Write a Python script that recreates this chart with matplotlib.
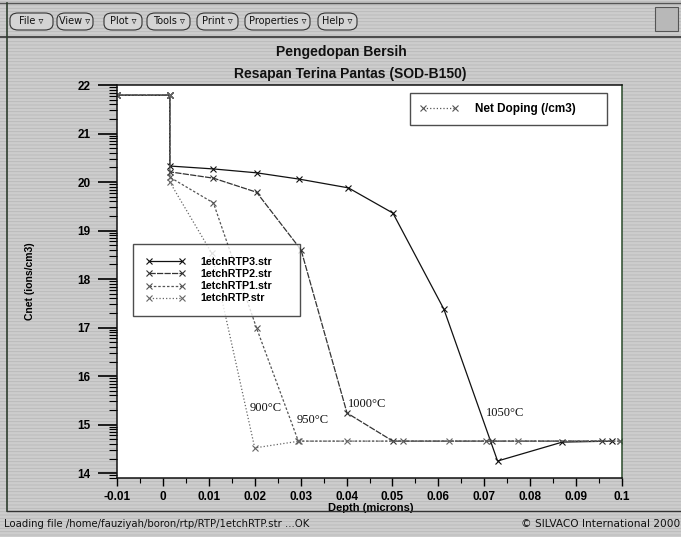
import matplotlib
matplotlib.use("Agg")
import numpy as np
import matplotlib.pyplot as plt
import matplotlib.ticker as ticker
from matplotlib.lines import Line2D
from matplotlib.patches import FancyBboxPatch, Rectangle

plt.rcParams['font.family'] = ['Liberation Sans', 'DejaVu Sans']
plt.rcParams['hatch.linewidth'] = 0.6

# depth (microns) and log10 net doping for the four RTP runs
depth_1050 = [-0.01, 0.0015, 0.0015, 0.011, 0.0204, 0.0297, 0.0404, 0.0501, 0.0612, 0.0729, 0.087, 0.0978]
cnet_1050 = [21.79, 21.79, 20.33, 20.27, 20.19, 20.06, 19.88, 19.36, 17.38, 14.25, 14.64, 14.66]
depth_1000 = [-0.01, 0.0015, 0.0015, 0.011, 0.0204, 0.0301, 0.0401, 0.0501, 0.0716, 0.0957]
cnet_1000 = [21.79, 21.79, 20.21, 20.08, 19.79, 18.6, 15.24, 14.66, 14.66, 14.66]
depth_950 = [-0.01, 0.0015, 0.0015, 0.011, 0.0204, 0.0295, 0.0523, 0.0703, 0.0995]
cnet_950 = [21.79, 21.79, 20.10, 19.57, 16.99, 14.66, 14.66, 14.66, 14.66]
depth_900 = [-0.01, 0.0015, 0.0015, 0.0106, 0.020, 0.0297, 0.0400, 0.0623, 0.0774, 0.0995]
cnet_900 = [21.79, 21.79, 20.0, 18.54, 14.52, 14.66, 14.66, 14.66, 14.66, 14.66]

files = ["1etchRTP3.str", "1etchRTP2.str", "1etchRTP1.str", "1etchRTP.str"]
temps = ["1050°C", "1000°C", "950°C", "900°C"]
temp_pos = [(0.0703, 15.24), (0.0403, 15.42), (0.0291, 15.09), (0.0189, 15.34)]

menu = ["File", "View", "Plot", "Tools", "Print", "Properties", "Help"]
menu_x = [(10, 53), (57, 93), (104, 142), (147, 190), (197, 238), (245, 310), (318, 357)]

W, H = 681, 537


def fx(x):
    return x / W


def fy(y):
    return 1 - y / H


fig = plt.figure(figsize=(6.81, 5.37), dpi=100)
fig.patch.set_facecolor('#c9c9c9')
fig.patches.append(Rectangle((0, 0), 1, 1, transform=fig.transFigure, facecolor='#cdcdcd',
                             edgecolor='#b9b9b9', hatch='-----', lw=0, zorder=-10))

# window frame lines
fig.add_artist(Line2D([0, 1], [fy(37), fy(37)], color='#333333', lw=1.2))
fig.add_artist(Line2D([0, 1], [fy(3), fy(3)], color='#555555', lw=1.0))
fig.add_artist(Line2D([fx(7), fx(7)], [fy(3), fy(511)], color='#2e3e2e', lw=1.2))
fig.add_artist(Line2D([fx(7), 1], [fy(511), fy(511)], color='#333333', lw=1.0))

# menu buttons
for name, (x0, x1) in zip(menu, menu_x):
    fig.patches.append(FancyBboxPatch((fx(x0), fy(30)), fx(x1 - x0), 17 / H,
                                      boxstyle="round,pad=0,rounding_size=0.012",
                                      transform=fig.transFigure, facecolor='#d4d4d4',
                                      edgecolor='#333333', lw=0.8))
    fig.text(fx((x0 + x1) / 2), fy(21), name + " \u25bf", ha='center', va='center',
             fontsize=7, family='DejaVu Sans', color='#111111')
fig.patches.append(Rectangle((fx(655), fy(31)), fx(23), 24 / H, transform=fig.transFigure,
                             facecolor='#b8b8b8', edgecolor='#555555', lw=0.8))

# titles
fig.text(fx(341), fy(52), "Pengedopan Bersih", ha='center', va='center', fontsize=10,
         fontweight='bold', color='#111111')
fig.text(fx(350), fy(74), "Resapan Terina Pantas (SOD-B150)", ha='center', va='center',
         fontsize=10, fontweight='bold', color='#111111')

# status bar
fig.text(fx(4), fy(524), "Loading file /home/fauziyah/boron/rtp/RTP/1etchRTP.str ...OK",
         ha='left', va='center', fontsize=7.3, family='DejaVu Sans', color='#111111')
fig.text(fx(680), fy(524), "\u00a9 SILVACO International 2000", ha='right', va='center',
         fontsize=7.6, family='DejaVu Sans', color='#111111')

ax = fig.add_axes([fx(117), fy(478), fx(505), 393 / H])
ax.set_facecolor('white')

styles = [('#111111', '-'), ('#333333', (0, (5, 1))), ('#555555', (0, (2, 1.5))), ('#666666', ':')]
series = [(depth_1050, cnet_1050), (depth_1000, cnet_1000), (depth_950, cnet_950), (depth_900, cnet_900)]
handles = []
for (d, c), (col, ls), name in zip(series, styles, files):
    h, = ax.plot(d, c, color=col, ls=ls, lw=0.9, marker='x', ms=4, mew=0.8, label=name)
    handles.append(h)

for t, (x, y) in zip(temps, temp_pos):
    ax.text(x, y, t, fontsize=9, family='Liberation Serif', va='center', ha='left', color='#111111')

ax.set_xlim(-0.01, 0.1)
ax.set_ylim(13.9, 22.0)
ax.xaxis.set_major_locator(ticker.MultipleLocator(0.01))
ax.xaxis.set_minor_locator(ticker.MultipleLocator(0.005))
ax.xaxis.set_major_formatter(ticker.FuncFormatter(lambda v, p: '%g' % (round(v, 3) + 0.0)))
ax.yaxis.set_major_locator(ticker.MultipleLocator(1))
minor_y = [n + np.log10(k) for n in range(13, 22) for k in range(2, 10)]
ax.yaxis.set_minor_locator(ticker.FixedLocator(minor_y))

ax.tick_params(axis='y', which='major', direction='out', length=14, width=1.2, pad=5)
ax.tick_params(axis='y', which='minor', direction='out', length=6, width=0.8)
ax.tick_params(axis='x', which='major', direction='out', length=6, width=1.0, pad=3)
ax.tick_params(axis='x', which='minor', direction='out', length=3.5, width=0.8)
for lab in ax.get_xticklabels() + ax.get_yticklabels():
    lab.set_fontweight('bold')
    lab.set_fontsize(8.5)
for s in ax.spines.values():
    s.set_color('#111111')
    s.set_linewidth(1.1)
ax.spines['right'].set_color('#2a4a2a')

ax.set_xlabel("Depth (microns)", fontsize=8, fontweight='bold', va='center')
ax.xaxis.set_label_coords(0.503, -0.0755)
ax.set_ylabel("Cnet (ions/cm3)", fontsize=7.5, fontweight='bold', va='center')
ax.yaxis.set_label_coords(-0.172, 0.5)

leg1 = ax.legend(handles=handles, loc='upper left', bbox_to_anchor=(0.032, 0.407, 0.33, 0.188),
                 mode='expand', prop={'weight': 'bold', 'size': 7.7}, frameon=True,
                 fancybox=False, edgecolor='#222222', handlelength=3.7, numpoints=2,
                 borderpad=1.2, labelspacing=0.2, handletextpad=1.4, borderaxespad=0)
leg1.get_frame().set_linewidth(1.0)
ax.add_artist(leg1)

net = Line2D([], [], color='#555555', ls=':', lw=0.9, marker='x', ms=4, mew=0.8)
leg2 = ax.legend(handles=[net], labels=["Net Doping (/cm3)"], loc='upper left',
                 bbox_to_anchor=(0.580, 0.903, 0.390, 0.077), mode='expand',
                 prop={'weight': 'bold', 'size': 8.5}, frameon=True, fancybox=False,
                 edgecolor='#222222', handlelength=3.3, numpoints=2, borderpad=0.85,
                 handletextpad=1.35, borderaxespad=0)
leg2.get_frame().set_linewidth(1.0)

fig.savefig("out.png", dpi=100, facecolor=fig.get_facecolor())
